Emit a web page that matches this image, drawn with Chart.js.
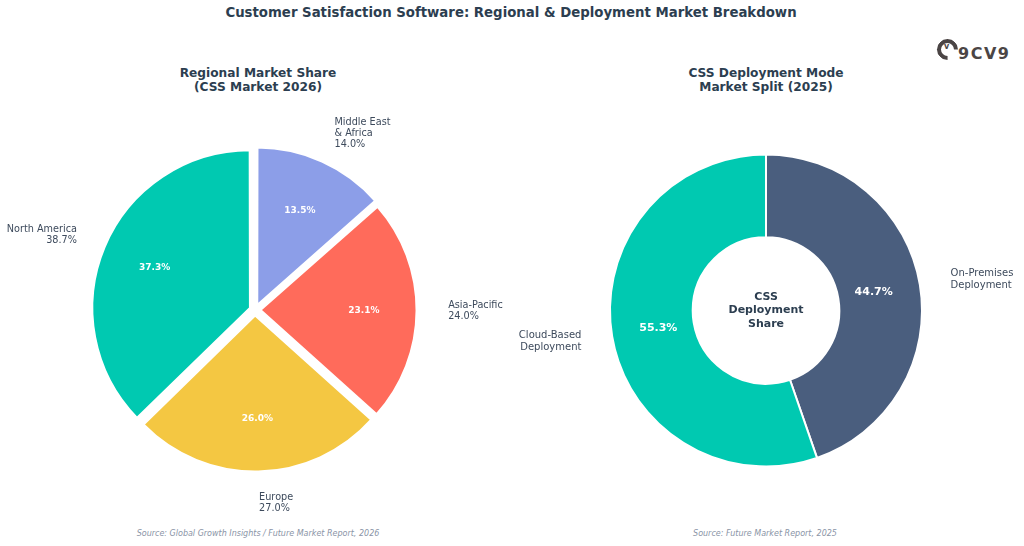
<!DOCTYPE html>
<html>
<head>
<meta charset="utf-8">
<title>Customer Satisfaction Software: Regional & Deployment Market Breakdown</title>
<script src="https://cdn.jsdelivr.net/npm/chart.js@4.4.0/dist/chart.umd.min.js"></script>
<style>
  body { margin: 0; width: 1024px; height: 546px; background: #fff; position: relative; overflow: hidden;
         font-family: "DejaVu Sans", sans-serif; }
  .lbl { position: absolute; white-space: nowrap; transform: translateX(-50%); text-align: center; }
  .title { top: 5px; left: 511px; font-size: 13.3px; line-height: 16px; font-weight: bold; color: #2c3e50; }
  .sub { top: 66px; font-size: 12.2px; line-height: 14px; font-weight: bold; color: #2c3e50; }
  .src { top: 529px; font-size: 8px; line-height: 10px; font-style: italic; color: #8a94a6; }
  canvas { position: absolute; top: 0; }
  #regionChart { left: 0; }
  #deployChart { left: 512px; }
  .logo { position: absolute; left: 937px; top: 39px; height: 22px; }
  .logo .ring { position: absolute; left: 0; top: 0; width: 13px; height: 13px; border: 4px solid #4b4545;
                border-radius: 50%; border-right-color: transparent; transform: rotate(45deg); }
  .logo .v { position: absolute; left: 7px; top: 3px; font-size: 8px; font-weight: bold; color: #4b4545; }
  .logo .name { position: absolute; left: 21px; top: 6px; font-size: 16px; line-height: 18px; font-weight: bold;
                color: #4b4545; letter-spacing: 1.5px; }
</style>
</head>
<body>
<div class="lbl title">Customer Satisfaction Software: Regional &amp; Deployment Market Breakdown</div>
<div class="lbl sub" style="left:258px">Regional Market Share<br>(CSS Market 2026)</div>
<div class="lbl sub" style="left:766px">CSS Deployment Mode<br>Market Split (2025)</div>
<div class="lbl src" style="left:258px">Source: Global Growth Insights / Future Market Report, 2026</div>
<div class="lbl src" style="left:765px">Source: Future Market Report, 2025</div>
<div class="logo"><div class="ring"></div><div class="v">v</div><div class="name">9CV9</div></div>

<canvas id="regionChart" width="512" height="546"></canvas>
<canvas id="deployChart" width="512" height="546"></canvas>

<script>
// regional market share (2026), clockwise from the top
const regionNames = ['Middle East\n& Africa', 'Asia-Pacific', 'Europe', 'North America'];
const regionValues = [14.0, 24.0, 27.0, 38.7];
const regionColors = ['#8c9ee8', '#ff6b5b', '#f4c742', '#00c9b1'];

// deployment split (2025)
const deployNames = ['On-Premises\nDeployment', 'Cloud-Based\nDeployment'];
const deployValues = [44.7, 55.3];
const deployColors = ['#4a5e7e', '#00c9b1'];

const centerLines = ['CSS', 'Deployment', 'Share'];

// percentage inside each slice + name label outside
const sliceLabels = {
    id: 'sliceLabels',
    afterDatasetsDraw(chart, args, opts) {
        const ctx = chart.ctx;
        const meta = chart.getDatasetMeta(0);
        const values = chart.data.datasets[0].data;
        const total = values.reduce((a, b) => a + b, 0);
        meta.data.forEach((arc, i) => {
            const p = arc.getProps(['x', 'y', 'startAngle', 'endAngle', 'outerRadius'], true);
            const mid = (p.startAngle + p.endAngle) / 2;
            const cos = Math.cos(mid), sin = Math.sin(mid);
            ctx.save();
            ctx.textBaseline = 'middle';

            const rIn = p.outerRadius * opts.pctDist + opts.shift;
            ctx.fillStyle = '#ffffff';
            ctx.font = opts.pctFont;
            ctx.textAlign = 'center';
            ctx.fillText((values[i] / total * 100).toFixed(1) + '%', p.x + cos * rIn, p.y + sin * rIn);

            const rOut = p.outerRadius * opts.labelDist + opts.shift;
            const lx = p.x + cos * rOut, ly = p.y + sin * rOut;
            let text = chart.data.labels[i];
            if (opts.showValue) text += '\n' + values[i].toFixed(1) + '%';
            const lines = text.split('\n');
            ctx.font = opts.labelFont;
            ctx.fillStyle = '#3d4a5c';
            ctx.textAlign = cos >= 0 ? 'left' : 'right';
            lines.forEach((ln, k) => {
                ctx.fillText(ln, lx, ly + (k - (lines.length - 1) / 2) * opts.lineHeight);
            });
            ctx.restore();
        });

        if (opts.center) {
            const arc = meta.data[0];
            ctx.save();
            ctx.font = 'bold 11px "DejaVu Sans"';
            ctx.fillStyle = '#2c3e50';
            ctx.textAlign = 'center';
            ctx.textBaseline = 'middle';
            opts.center.forEach((ln, k) => {
                ctx.fillText(ln, arc.x, arc.y + (k - (opts.center.length - 1) / 2) * 13.3);
            });
            ctx.restore();
        }
    }
};

new Chart(document.getElementById('regionChart'), {
    type: 'pie',
    data: {
        labels: regionNames,
        datasets: [{
            data: regionValues,
            backgroundColor: regionColors,
            borderColor: '#ffffff',
            borderWidth: 2,
            offset: 22
        }]
    },
    options: {
        responsive: false,
        animation: false,
        events: [],
        radius: 156,
        layout: { padding: { left: 0, right: 2, top: 100, bottom: 26 } },
        plugins: {
            legend: { display: false },
            tooltip: { enabled: false },
            sliceLabels: {
                pctDist: 0.66, labelDist: 1.2, shift: 6,
                pctFont: 'bold 9px "DejaVu Sans"', labelFont: '9.7px "DejaVu Sans"',
                lineHeight: 11, showValue: true
            }
        }
    },
    plugins: [sliceLabels]
});

new Chart(document.getElementById('deployChart'), {
    type: 'doughnut',
    data: {
        labels: deployNames,
        datasets: [{
            data: deployValues,
            backgroundColor: deployColors,
            borderColor: '#ffffff',
            borderWidth: 2
        }]
    },
    options: {
        responsive: false,
        animation: false,
        events: [],
        radius: 156,
        cutout: '47%',
        layout: { padding: { left: 0, right: 4, top: 101, bottom: 26 } },
        plugins: {
            legend: { display: false },
            tooltip: { enabled: false },
            sliceLabels: {
                pctDist: 0.7, labelDist: 1.2, shift: 0,
                pctFont: 'bold 11px "DejaVu Sans"', labelFont: '10px "DejaVu Sans"',
                lineHeight: 11.5, showValue: false, center: centerLines
            }
        }
    },
    plugins: [sliceLabels]
});
</script>
</body>
</html>
